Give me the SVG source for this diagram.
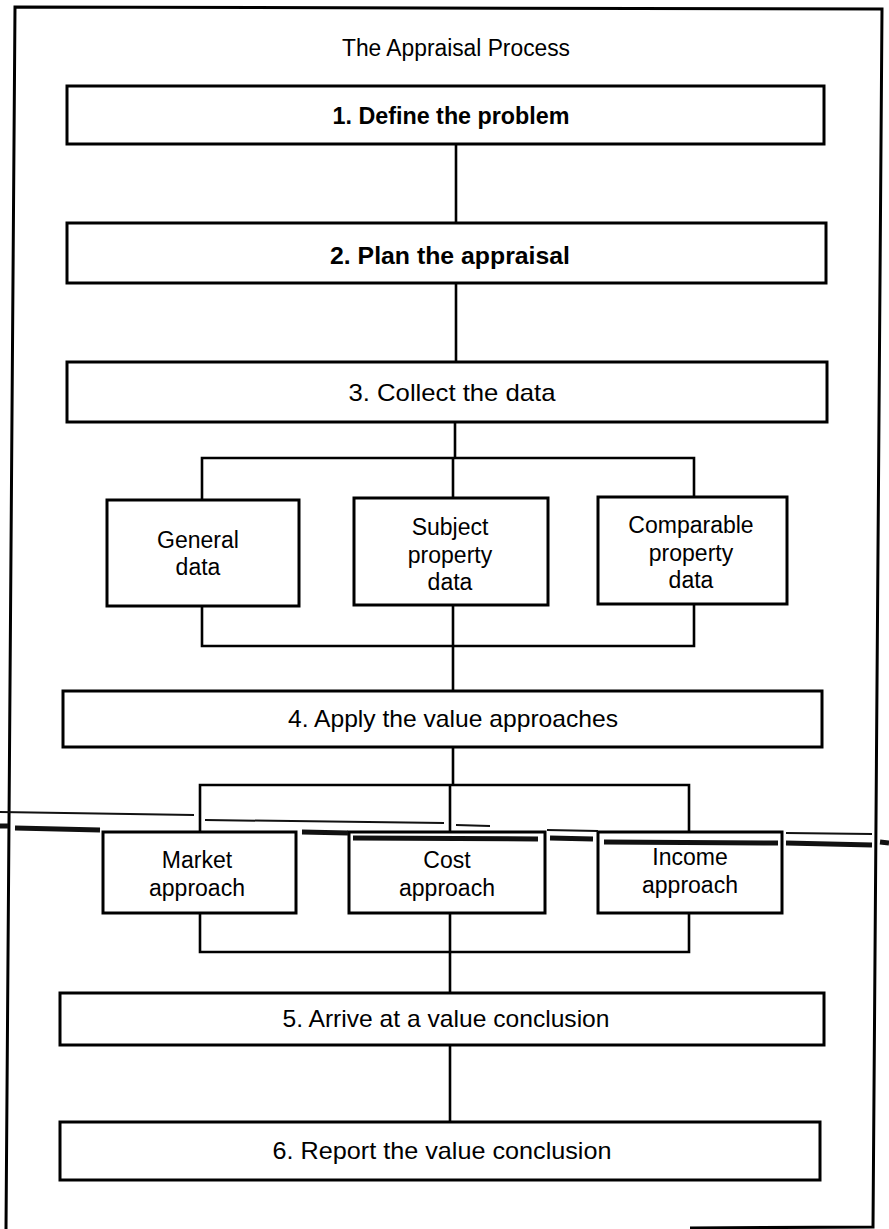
<svg xmlns="http://www.w3.org/2000/svg" width="889" height="1229" viewBox="0 0 889 1229">
<style>
.box{fill:#fff;stroke:#000;stroke-width:3}
.conn{fill:none;stroke:#000;stroke-width:2.6}
.frame{fill:none;stroke:#000;stroke-width:3}
.art{fill:none;stroke:#111}
text{font-family:"Liberation Sans",Arial,sans-serif;fill:#000;text-anchor:middle;dominant-baseline:central}
.main{font-size:24px}
.bold{font-weight:bold}
.small{font-size:23px}
.title{font-size:23px}
</style>
<rect x="0" y="0" width="889" height="1229" fill="#fff"/>
<path id="frame" class="frame" d="M6,1229 L15,7 L882,9 L873,1227 L690,1228"/>
<text id="title" class="title" x="456" y="48" textLength="228" lengthAdjust="spacingAndGlyphs">The Appraisal Process</text>

<g id="connectors">
  <path class="conn" d="M456,144 V223"/>
  <path class="conn" d="M456,283 V362"/>
  <path class="conn" d="M455,422 V458 M202,500 V458 H694 V497 M453,458 V498"/>
  <path class="conn" d="M202,606 V646 H694 V604 M453,605 V691"/>
  <path class="conn" d="M453,747 V785 M200,832 V785 H689 V832 M450,785 V832"/>
  <path class="conn" d="M200,913 V952 H689 V913 M450,913 V993"/>
  <path class="conn" d="M450,1045 V1122"/>
</g>

<g id="n1"><rect class="box" x="67" y="86" width="757" height="58"/><text class="main bold" x="451" y="115" textLength="237" lengthAdjust="spacingAndGlyphs">1. Define the problem</text></g>
<g id="n2"><rect class="box" x="67" y="223" width="759" height="60"/><text class="main bold" x="450" y="255" textLength="240" lengthAdjust="spacingAndGlyphs">2. Plan the appraisal</text></g>
<g id="n3"><rect class="box" x="67" y="362" width="760" height="60"/><text class="main" x="452" y="392" textLength="207" lengthAdjust="spacingAndGlyphs">3.  Collect the data</text></g>

<g id="n3a"><rect class="box" x="107" y="500" width="192" height="106"/><text class="small"><tspan x="198" y="540">General</tspan><tspan x="198" y="567">data</tspan></text></g>
<g id="n3b"><rect class="box" x="354" y="498" width="194" height="107"/><text class="small"><tspan x="450" y="527">Subject</tspan><tspan x="450" y="555">property</tspan><tspan x="450" y="582">data</tspan></text></g>
<g id="n3c"><rect class="box" x="598" y="497" width="189" height="107"/><text class="small"><tspan x="691" y="525">Comparable</tspan><tspan x="691" y="553">property</tspan><tspan x="691" y="580">data</tspan></text></g>

<g id="n4"><rect class="box" x="63" y="691" width="759" height="56"/><text class="main" x="453" y="718" textLength="330" lengthAdjust="spacingAndGlyphs">4.  Apply the value approaches</text></g>

<g id="n4a"><rect class="box" x="103" y="832" width="193" height="81"/><text class="small"><tspan x="197" y="860">Market</tspan><tspan x="197" y="888">approach</tspan></text></g>
<g id="n4b"><rect class="box" x="349" y="832" width="196" height="81"/><text class="small"><tspan x="447" y="860">Cost</tspan><tspan x="447" y="888">approach</tspan></text></g>
<g id="n4c"><rect class="box" x="598" y="832" width="184" height="81"/><text class="small"><tspan x="690" y="857">Income</tspan><tspan x="690" y="885">approach</tspan></text></g>

<g id="n5"><rect class="box" x="60" y="993" width="764" height="52"/><text class="main" x="446" y="1018" textLength="327" lengthAdjust="spacingAndGlyphs">5.  Arrive at a value conclusion</text></g>
<g id="n6"><rect class="box" x="60" y="1122" width="760" height="58"/><text class="main" x="442" y="1150" textLength="339" lengthAdjust="spacingAndGlyphs">6.  Report the value conclusion</text></g>

<g id="scan-artifact">
  <path class="art" stroke-width="2" d="M0,812 L194,815 M205,820 L444,823 M456,825 L490,826 M547,830 L598,831 M786,833 L872,834"/>
  <path class="art" stroke-width="5" d="M0,826 L8,826 M15,828 L100,830 M302,832 L348,833 M353,838 L538,839 M550,838 L593,839 M604,842 L778,843 M786,843 L872,845 M880,842 L889,843"/>
</g>
</svg>
